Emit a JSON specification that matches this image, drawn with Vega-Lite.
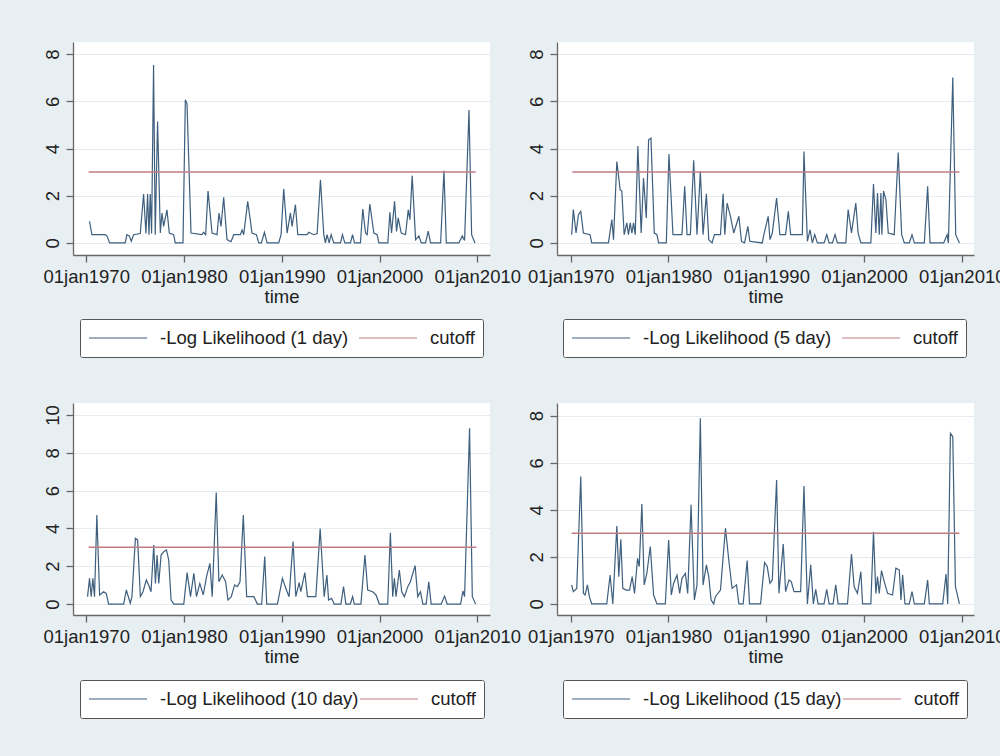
{
  "$schema": "https://vega.github.io/schema/vega-lite/v6.json",
  "background": "#e8eff2",
  "padding": {"left": 42, "top": 42, "right": 0, "bottom": 38},
  "columns": 2,
  "spacing": {"row": 148, "column": 67},
  "bounds": "flush",
  "resolve": {"scale": {"color": "independent", "x": "independent", "y": "independent"}, "legend": {"color": "independent"}},
  "config": {
    "font": "Liberation Sans",
    "view": {"fill": "white", "stroke": null},
    "axis": {"domainColor": "#666666", "domainWidth": 1.3, "tickColor": "#666666", "tickWidth": 1.3, "tickSize": 7, "labelFontSize": 18.5, "labelColor": "#222222", "titleFontSize": 18.5, "titleFontWeight": "normal", "titleColor": "#222222", "labelOverlap": false},
    "axisX": {"labelPadding": 5, "titlePadding": 2, "grid": false, "labelFlush": false},
    "axisY": {"labelAngle": -90, "labelAlign": "center", "labelBaseline": "alphabetic", "labelPadding": 8, "grid": true, "gridColor": "#e4ecef", "gridWidth": 1.2},
    "legend": {"orient": "none", "direction": "horizontal", "columns": 2, "symbolType": "stroke", "symbolSize": 3364, "symbolStrokeWidth": 1.5, "labelFontSize": 18.5, "labelColor": "#222222", "labelOffset": 12, "padding": 8, "clipHeight": 22, "strokeColor": "#555555", "fillColor": "white", "cornerRadius": 2, "labelLimit": 400, "labelBaseline": "middle"},
    "line": {"strokeWidth": 1.2}
  },
  "concat": [
    {
      "width": 417, "height": 213,
      "encoding": {
        "x": {"field": "time", "type": "quantitative", "scale": {"domain": [1968.65, 2011.3], "nice": false, "zero": false}, "axis": {"values": [1970, 1980, 1990, 2000, 2010], "labelExpr": "'01jan' + datum.value", "title": "time"}},
        "y": {"field": "value", "type": "quantitative", "scale": {"domain": [-0.51, 8.51], "nice": false, "zero": false}, "axis": {"values": [0, 2, 4, 6, 8], "title": null}}
      },
      "layer": [
        {
          "data": {"values": [
            {"time":1970.34,"value":0.92},{"time":1970.58,"value":0.35},{"time":1971.95,"value":0.35},{"time":1972.12,"value":0.30},{"time":1972.39,"value":0},{"time":1973.99,"value":0},{"time":1974.16,"value":0.35},{"time":1974.40,"value":0.30},{"time":1974.61,"value":0.07},{"time":1974.85,"value":0.35},{"time":1975.53,"value":0.40},{"time":1975.87,"value":2.07},{"time":1976.11,"value":0.40},{"time":1976.28,"value":2.07},{"time":1976.42,"value":0.35},{"time":1976.55,"value":2.07},{"time":1976.69,"value":0.40},{"time":1976.89,"value":7.54},{"time":1977.06,"value":0.35},{"time":1977.30,"value":5.14},{"time":1977.58,"value":0.42},{"time":1977.75,"value":1.27},{"time":1977.92,"value":0.70},{"time":1978.26,"value":1.40},{"time":1978.50,"value":0.42},{"time":1978.94,"value":0.35},{"time":1979.11,"value":0},{"time":1979.90,"value":0},{"time":1980.14,"value":6.06},{"time":1980.31,"value":5.90},{"time":1980.72,"value":0.42},{"time":1981.84,"value":0.35},{"time":1982.01,"value":0.45},{"time":1982.22,"value":0.35},{"time":1982.46,"value":2.20},{"time":1982.87,"value":0.42},{"time":1983.38,"value":0.35},{"time":1983.58,"value":1.27},{"time":1983.79,"value":0.70},{"time":1984.06,"value":1.93},{"time":1984.40,"value":0.14},{"time":1984.81,"value":0.05},{"time":1985.09,"value":0.35},{"time":1985.77,"value":0.35},{"time":1985.94,"value":0.55},{"time":1986.11,"value":0.35},{"time":1986.52,"value":1.76},{"time":1986.96,"value":0.42},{"time":1987.41,"value":0.35},{"time":1987.65,"value":0},{"time":1987.92,"value":0},{"time":1988.23,"value":0.45},{"time":1988.50,"value":0},{"time":1989.69,"value":0},{"time":1989.93,"value":0.35},{"time":1990.20,"value":2.28},{"time":1990.55,"value":0.42},{"time":1990.89,"value":1.27},{"time":1991.06,"value":0.70},{"time":1991.40,"value":1.62},{"time":1991.64,"value":0.35},{"time":1992.59,"value":0.35},{"time":1992.76,"value":0.45},{"time":1993.28,"value":0.35},{"time":1993.62,"value":0.40},{"time":1993.96,"value":2.68},{"time":1994.30,"value":0.35},{"time":1994.47,"value":0},{"time":1994.64,"value":0.35},{"time":1994.85,"value":0},{"time":1995.05,"value":0.35},{"time":1995.32,"value":0},{"time":1996.01,"value":0},{"time":1996.21,"value":0.35},{"time":1996.45,"value":0},{"time":1997.03,"value":0},{"time":1997.24,"value":0.35},{"time":1997.44,"value":0},{"time":1998.05,"value":0},{"time":1998.29,"value":1.44},{"time":1998.57,"value":0.42},{"time":1998.74,"value":0.35},{"time":1999.01,"value":1.65},{"time":1999.42,"value":0.42},{"time":1999.76,"value":0.35},{"time":1999.93,"value":0},{"time":2000.85,"value":0},{"time":2001.06,"value":1.30},{"time":2001.23,"value":0.42},{"time":2001.54,"value":1.76},{"time":2001.74,"value":0.49},{"time":2001.91,"value":1.06},{"time":2002.22,"value":0.42},{"time":2002.66,"value":0.35},{"time":2002.94,"value":1.40},{"time":2003.11,"value":0.99},{"time":2003.34,"value":2.85},{"time":2003.69,"value":0.14},{"time":2004.03,"value":0.30},{"time":2004.27,"value":0},{"time":2004.71,"value":0},{"time":2004.98,"value":0.50},{"time":2005.22,"value":0},{"time":2006.25,"value":0},{"time":2006.59,"value":3.06},{"time":2006.83,"value":0},{"time":2008.12,"value":0},{"time":2008.46,"value":0.30},{"time":2008.70,"value":0.10},{"time":2009.15,"value":5.63},{"time":2009.42,"value":0.35},{"time":2009.76,"value":0}
          ]},
          "mark": {"type": "line"},
          "encoding": {"color": {"datum": "-Log Likelihood (1 day)", "scale": {"domain": ["-Log Likelihood (1 day)", "cutoff"], "range": ["#3e5f7e", "#bf7c82"]}, "legend": {"title": null, "legendX": 7, "legendY": 277, "columnPadding": 9}}}
        },
        {
          "data": {"values": [{"time": 1970.24, "value": 3}, {"time": 2009.83, "value": 3}]},
          "mark": {"type": "line", "strokeWidth": 1.5},
          "encoding": {"color": {"datum": "cutoff"}}
        }
      ]
    },
    {
      "width": 417, "height": 213,
      "encoding": {
        "x": {"field": "time", "type": "quantitative", "scale": {"domain": [1968.6, 2011.25], "nice": false, "zero": false}, "axis": {"values": [1970, 1980, 1990, 2000, 2010], "labelExpr": "'01jan' + datum.value", "title": "time"}},
        "y": {"field": "value", "type": "quantitative", "scale": {"domain": [-0.51, 8.51], "nice": false, "zero": false}, "axis": {"values": [0, 2, 4, 6, 8], "title": null}}
      },
      "layer": [
        {
          "data": {"values": [
            {"time":1970.10,"value":0.35},{"time":1970.27,"value":1.41},{"time":1970.55,"value":0.42},{"time":1970.79,"value":1.20},{"time":1971.03,"value":1.34},{"time":1971.30,"value":0.42},{"time":1971.98,"value":0.35},{"time":1972.15,"value":0},{"time":1973.86,"value":0},{"time":1974.21,"value":0.99},{"time":1974.38,"value":0.14},{"time":1974.72,"value":3.45},{"time":1975.06,"value":2.25},{"time":1975.23,"value":2.20},{"time":1975.47,"value":0.35},{"time":1975.74,"value":0.85},{"time":1975.91,"value":0.35},{"time":1976.09,"value":0.85},{"time":1976.26,"value":0.42},{"time":1976.43,"value":0.85},{"time":1976.60,"value":0.35},{"time":1976.87,"value":4.10},{"time":1977.21,"value":0.42},{"time":1977.45,"value":2.75},{"time":1977.73,"value":1.06},{"time":1977.97,"value":4.37},{"time":1978.21,"value":4.44},{"time":1978.55,"value":0.42},{"time":1978.82,"value":0.35},{"time":1978.99,"value":0},{"time":1979.78,"value":0},{"time":1980.05,"value":3.77},{"time":1980.46,"value":0.35},{"time":1981.38,"value":0.35},{"time":1981.66,"value":2.40},{"time":1981.90,"value":0.35},{"time":1982.24,"value":0.35},{"time":1982.58,"value":3.50},{"time":1982.92,"value":0.35},{"time":1983.26,"value":3.03},{"time":1983.54,"value":0.35},{"time":1983.88,"value":2.08},{"time":1984.12,"value":0.14},{"time":1984.46,"value":0},{"time":1984.70,"value":0.35},{"time":1985.32,"value":0.35},{"time":1985.59,"value":2.08},{"time":1985.76,"value":0.35},{"time":1986.00,"value":1.69},{"time":1986.34,"value":1.13},{"time":1986.68,"value":0.42},{"time":1987.20,"value":1.13},{"time":1987.47,"value":0.07},{"time":1987.78,"value":0},{"time":1988.12,"value":0.70},{"time":1988.32,"value":0.07},{"time":1989.59,"value":0},{"time":1989.76,"value":0.35},{"time":1990.20,"value":1.13},{"time":1990.38,"value":0.14},{"time":1990.62,"value":0.42},{"time":1991.06,"value":1.90},{"time":1991.40,"value":0.35},{"time":1991.98,"value":0.35},{"time":1992.26,"value":1.34},{"time":1992.50,"value":0.35},{"time":1993.69,"value":0.35},{"time":1993.86,"value":3.87},{"time":1994.21,"value":0.07},{"time":1994.48,"value":0.56},{"time":1994.72,"value":0},{"time":1994.96,"value":0.35},{"time":1995.23,"value":0},{"time":1995.92,"value":0},{"time":1996.19,"value":0.35},{"time":1996.43,"value":0},{"time":1996.77,"value":0},{"time":1997.04,"value":0.35},{"time":1997.28,"value":0},{"time":1998.14,"value":0},{"time":1998.38,"value":1.41},{"time":1998.72,"value":0.42},{"time":1999.16,"value":1.69},{"time":1999.40,"value":0.42},{"time":1999.68,"value":0},{"time":2000.70,"value":0},{"time":2000.97,"value":2.50},{"time":2001.21,"value":0.42},{"time":2001.38,"value":2.11},{"time":2001.56,"value":0.35},{"time":2001.73,"value":2.11},{"time":2001.83,"value":0.35},{"time":2002.00,"value":2.20},{"time":2002.24,"value":1.83},{"time":2002.48,"value":0.42},{"time":2003.09,"value":0.35},{"time":2003.50,"value":3.83},{"time":2003.85,"value":0.35},{"time":2004.12,"value":0},{"time":2004.63,"value":0},{"time":2004.91,"value":0.35},{"time":2005.15,"value":0},{"time":2006.17,"value":0},{"time":2006.51,"value":2.40},{"time":2006.75,"value":0},{"time":2008.15,"value":0},{"time":2008.50,"value":0.35},{"time":2008.63,"value":0},{"time":2009.08,"value":7.01},{"time":2009.38,"value":0.35},{"time":2009.76,"value":0}
          ]},
          "mark": {"type": "line"},
          "encoding": {"color": {"datum": "-Log Likelihood (5 day)", "scale": {"domain": ["-Log Likelihood (5 day)", "cutoff"], "range": ["#3e5f7e", "#bf7c82"]}, "legend": {"title": null, "legendX": 6, "legendY": 277, "columnPadding": 9}}}
        },
        {
          "data": {"values": [{"time": 1970.17, "value": 3}, {"time": 2009.76, "value": 3}]},
          "mark": {"type": "line", "strokeWidth": 1.5},
          "encoding": {"color": {"datum": "cutoff"}}
        }
      ]
    },
    {
      "width": 417, "height": 212,
      "encoding": {
        "x": {"field": "time", "type": "quantitative", "scale": {"domain": [1968.65, 2011.3], "nice": false, "zero": false}, "axis": {"values": [1970, 1980, 1990, 2000, 2010], "labelExpr": "'01jan' + datum.value", "title": "time"}},
        "y": {"field": "value", "type": "quantitative", "scale": {"domain": [-0.58, 10.63], "nice": false, "zero": false}, "axis": {"values": [0, 2, 4, 6, 8, 10], "title": null}}
      },
      "layer": [
        {
          "data": {"values": [
            {"time":1970.14,"value":0.39},{"time":1970.34,"value":1.36},{"time":1970.51,"value":0.39},{"time":1970.68,"value":1.36},{"time":1970.85,"value":0.39},{"time":1971.09,"value":4.71},{"time":1971.37,"value":0.48},{"time":1971.78,"value":0.65},{"time":1972.05,"value":0.56},{"time":1972.29,"value":0},{"time":1973.83,"value":0},{"time":1974.10,"value":0.74},{"time":1974.51,"value":0.04},{"time":1974.68,"value":0.39},{"time":1975.03,"value":3.47},{"time":1975.26,"value":3.39},{"time":1975.54,"value":0.39},{"time":1975.81,"value":0.65},{"time":1976.15,"value":1.27},{"time":1976.39,"value":1.01},{"time":1976.63,"value":0.65},{"time":1976.91,"value":3.12},{"time":1977.08,"value":1.09},{"time":1977.25,"value":2.59},{"time":1977.42,"value":1.09},{"time":1977.66,"value":2.59},{"time":1977.93,"value":2.77},{"time":1978.21,"value":2.86},{"time":1978.44,"value":2.33},{"time":1978.68,"value":0.21},{"time":1978.96,"value":0},{"time":1979.98,"value":0},{"time":1980.32,"value":1.66},{"time":1980.67,"value":0.39},{"time":1981.01,"value":1.62},{"time":1981.28,"value":0.39},{"time":1981.62,"value":1.09},{"time":1981.97,"value":0.48},{"time":1982.31,"value":1.45},{"time":1982.65,"value":2.15},{"time":1982.89,"value":0.39},{"time":1983.30,"value":5.90},{"time":1983.57,"value":1.18},{"time":1983.91,"value":1.53},{"time":1984.26,"value":1.18},{"time":1984.50,"value":0.21},{"time":1984.84,"value":0.39},{"time":1985.18,"value":1.01},{"time":1985.45,"value":0.92},{"time":1985.73,"value":1.18},{"time":1986.07,"value":4.71},{"time":1986.41,"value":0.39},{"time":1987.16,"value":0.39},{"time":1987.50,"value":0},{"time":1987.95,"value":0},{"time":1988.26,"value":2.51},{"time":1988.46,"value":0},{"time":1989.56,"value":0},{"time":1990.07,"value":1.36},{"time":1990.41,"value":0.83},{"time":1990.75,"value":0.39},{"time":1991.16,"value":3.30},{"time":1991.44,"value":0.39},{"time":1991.78,"value":1.13},{"time":1991.95,"value":0.65},{"time":1992.36,"value":1.66},{"time":1992.63,"value":0.39},{"time":1993.49,"value":0.39},{"time":1993.93,"value":3.99},{"time":1994.34,"value":0.39},{"time":1994.62,"value":1.53},{"time":1994.79,"value":0.21},{"time":1995.09,"value":0.30},{"time":1995.37,"value":0},{"time":1996.05,"value":0},{"time":1996.32,"value":0.92},{"time":1996.56,"value":0},{"time":1997.01,"value":0},{"time":1997.25,"value":0.39},{"time":1997.42,"value":0},{"time":1998.10,"value":0},{"time":1998.51,"value":2.59},{"time":1998.79,"value":0.74},{"time":1999.30,"value":0.65},{"time":1999.64,"value":0.48},{"time":1999.98,"value":0},{"time":2000.84,"value":0},{"time":2001.11,"value":3.77},{"time":2001.35,"value":0.39},{"time":2001.52,"value":1.36},{"time":2001.69,"value":0.39},{"time":2002.03,"value":1.80},{"time":2002.27,"value":0.65},{"time":2002.55,"value":0.39},{"time":2002.89,"value":0.92},{"time":2003.16,"value":1.18},{"time":2003.64,"value":2.03},{"time":2003.91,"value":0.39},{"time":2004.19,"value":0.65},{"time":2004.43,"value":0},{"time":2004.77,"value":0},{"time":2005.04,"value":1.18},{"time":2005.28,"value":0},{"time":2006.31,"value":0},{"time":2006.65,"value":0.42},{"time":2006.92,"value":0},{"time":2008.29,"value":0},{"time":2008.53,"value":0.70},{"time":2008.70,"value":0.39},{"time":2009.21,"value":9.29},{"time":2009.49,"value":0.39},{"time":2009.83,"value":0}
          ]},
          "mark": {"type": "line"},
          "encoding": {"color": {"datum": "-Log Likelihood (10 day)", "scale": {"domain": ["-Log Likelihood (10 day)", "cutoff"], "range": ["#3e5f7e", "#bf7c82"]}, "legend": {"title": null, "legendX": 7, "legendY": 277, "columnPadding": 0}}}
        },
        {
          "data": {"values": [{"time": 1970.24, "value": 3}, {"time": 2009.90, "value": 3}]},
          "mark": {"type": "line", "strokeWidth": 1.5},
          "encoding": {"color": {"datum": "cutoff"}}
        }
      ]
    },
    {
      "width": 417, "height": 212,
      "encoding": {
        "x": {"field": "time", "type": "quantitative", "scale": {"domain": [1968.6, 2011.25], "nice": false, "zero": false}, "axis": {"values": [1970, 1980, 1990, 2000, 2010], "labelExpr": "'01jan' + datum.value", "title": "time"}},
        "y": {"field": "value", "type": "quantitative", "scale": {"domain": [-0.47, 8.54], "nice": false, "zero": false}, "axis": {"values": [0, 2, 4, 6, 8], "title": null}}
      },
      "layer": [
        {
          "data": {"values": [
            {"time":1970.10,"value":0.81},{"time":1970.27,"value":0.52},{"time":1970.62,"value":0.66},{"time":1971.03,"value":5.42},{"time":1971.30,"value":0.45},{"time":1971.47,"value":0.38},{"time":1971.71,"value":0.81},{"time":1971.91,"value":0.31},{"time":1972.15,"value":0},{"time":1973.69,"value":0},{"time":1974.03,"value":1.23},{"time":1974.31,"value":0},{"time":1974.72,"value":3.31},{"time":1974.92,"value":1.16},{"time":1975.13,"value":2.75},{"time":1975.33,"value":0.66},{"time":1975.68,"value":0.59},{"time":1976.02,"value":0.59},{"time":1976.29,"value":1.16},{"time":1976.53,"value":0.45},{"time":1976.84,"value":1.94},{"time":1977.01,"value":1.59},{"time":1977.28,"value":4.25},{"time":1977.52,"value":0.81},{"time":1977.79,"value":1.30},{"time":1978.14,"value":2.44},{"time":1978.48,"value":0.38},{"time":1978.82,"value":0},{"time":1979.68,"value":0},{"time":1980.02,"value":2.72},{"time":1980.29,"value":0.38},{"time":1980.53,"value":0.88},{"time":1980.87,"value":1.23},{"time":1981.15,"value":0.45},{"time":1981.38,"value":1.09},{"time":1981.73,"value":1.30},{"time":1981.97,"value":0.45},{"time":1982.31,"value":4.21},{"time":1982.65,"value":0.17},{"time":1982.92,"value":0.81},{"time":1983.26,"value":7.89},{"time":1983.54,"value":0.81},{"time":1983.88,"value":1.66},{"time":1984.12,"value":1.16},{"time":1984.36,"value":0.17},{"time":1984.63,"value":0},{"time":1984.80,"value":0.31},{"time":1985.32,"value":0.59},{"time":1985.83,"value":3.22},{"time":1986.17,"value":1.87},{"time":1986.51,"value":0.66},{"time":1986.96,"value":0.81},{"time":1987.20,"value":0},{"time":1987.64,"value":0},{"time":1988.05,"value":1.84},{"time":1988.29,"value":0},{"time":1989.42,"value":0},{"time":1989.83,"value":1.76},{"time":1990.10,"value":1.59},{"time":1990.38,"value":0.88},{"time":1990.62,"value":1.02},{"time":1991.06,"value":5.27},{"time":1991.30,"value":0.45},{"time":1991.74,"value":2.55},{"time":1991.98,"value":0.52},{"time":1992.33,"value":1.02},{"time":1992.56,"value":0.95},{"time":1992.84,"value":0.52},{"time":1993.52,"value":0.52},{"time":1993.86,"value":5.01},{"time":1994.21,"value":0},{"time":1994.55,"value":1.66},{"time":1994.82,"value":0},{"time":1995.06,"value":0.62},{"time":1995.30,"value":0},{"time":1995.91,"value":0},{"time":1996.19,"value":0.62},{"time":1996.43,"value":0},{"time":1996.84,"value":0},{"time":1997.11,"value":0.81},{"time":1997.35,"value":0},{"time":1998.31,"value":0},{"time":1998.72,"value":2.12},{"time":1998.99,"value":0.73},{"time":1999.33,"value":0.45},{"time":1999.68,"value":1.37},{"time":1999.85,"value":0},{"time":2000.70,"value":0},{"time":2000.97,"value":3.07},{"time":2001.21,"value":0.45},{"time":2001.38,"value":1.16},{"time":2001.56,"value":0.45},{"time":2001.79,"value":1.42},{"time":2002.07,"value":0.95},{"time":2002.41,"value":0.45},{"time":2002.92,"value":0.38},{"time":2003.26,"value":1.52},{"time":2003.61,"value":1.45},{"time":2003.78,"value":0.17},{"time":2003.95,"value":1.23},{"time":2004.19,"value":0},{"time":2004.63,"value":0},{"time":2004.91,"value":0.52},{"time":2005.15,"value":0},{"time":2006.17,"value":0},{"time":2006.51,"value":1.02},{"time":2006.68,"value":0},{"time":2008.05,"value":0},{"time":2008.39,"value":1.27},{"time":2008.56,"value":0},{"time":2008.84,"value":7.25},{"time":2009.08,"value":7.11},{"time":2009.35,"value":0.74},{"time":2009.76,"value":0}
          ]},
          "mark": {"type": "line"},
          "encoding": {"color": {"datum": "-Log Likelihood (15 day)", "scale": {"domain": ["-Log Likelihood (15 day)", "cutoff"], "range": ["#3e5f7e", "#bf7c82"]}, "legend": {"title": null, "legendX": 6, "legendY": 277, "columnPadding": 0}}}
        },
        {
          "data": {"values": [{"time": 1970.10, "value": 3}, {"time": 2009.76, "value": 3}]},
          "mark": {"type": "line", "strokeWidth": 1.5},
          "encoding": {"color": {"datum": "cutoff"}}
        }
      ]
    }
  ]
}
